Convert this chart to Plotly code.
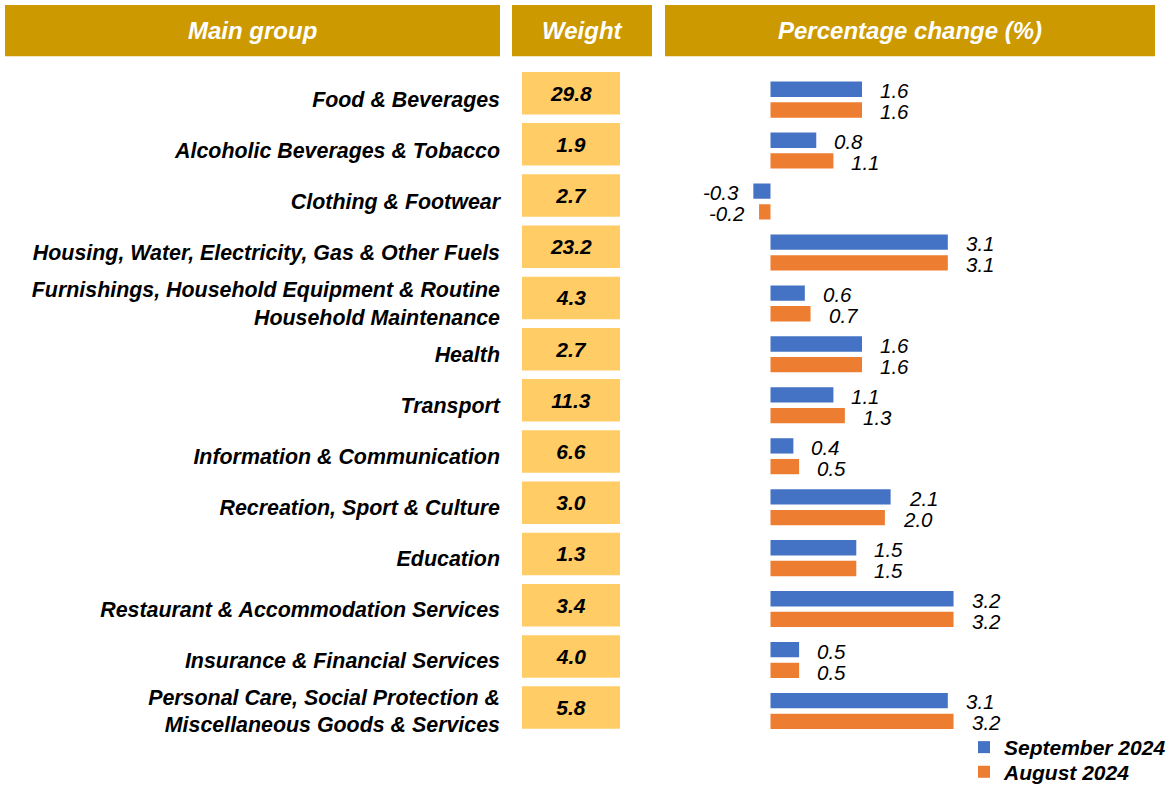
import plotly.graph_objects as go

W, H = 1176, 793

categories = [
    "Food & Beverages",
    "Alcoholic Beverages & Tobacco",
    "Clothing & Footwear",
    "Housing, Water, Electricity, Gas & Other Fuels",
    "Furnishings, Household Equipment & Routine<br>Household Maintenance",
    "Health",
    "Transport",
    "Information & Communication",
    "Recreation, Sport & Culture",
    "Education",
    "Restaurant & Accommodation Services",
    "Insurance & Financial Services",
    "Personal Care, Social Protection &<br>Miscellaneous Goods & Services",
]
weights = [29.8, 1.9, 2.7, 23.2, 4.3, 2.7, 11.3, 6.6, 3.0, 1.3, 3.4, 4.0, 5.8]
sep_2024 = [1.6, 0.8, -0.3, 3.1, 0.6, 1.6, 1.1, 0.4, 2.1, 1.5, 3.2, 0.5, 3.1]
aug_2024 = [1.6, 1.1, -0.2, 3.1, 0.7, 1.6, 1.3, 0.5, 2.0, 1.5, 3.2, 0.5, 3.2]
series_names = ["September 2024", "August 2024"]
headers = ["Main group", "Weight", "Percentage change (%)"]

FONT = "Arial, Liberation Sans, sans-serif"
GOLD = "#CC9900"
CELL = "#FFCC66"
BLUE = "#4472C4"
ORANGE = "#ED7D31"

def px_x(p):
    return p / W

def px_y(p):
    return 1 - p / H

fig = go.Figure()

# Weight cells (constant-width boxes carrying the weight values)
fig.add_trace(go.Bar(
    y=categories, x=[1] * len(categories), base=0, orientation="h",
    xaxis="x2", yaxis="y2", width=0.83,
    marker=dict(color=CELL, line=dict(width=0)),
    text=[f"{w:.1f}" for w in weights], textposition="inside",
    insidetextanchor="middle",
    textfont=dict(family=FONT, size=21, color="black", weight="bold", style="italic"),
    showlegend=False, hoverinfo="skip",
))

# Percentage change bars
for name, vals, col, lg in [(series_names[0], sep_2024, BLUE, "legend"),
                            (series_names[1], aug_2024, ORANGE, "legend2")]:
    fig.add_trace(go.Bar(
        y=categories, x=vals, orientation="h", name=name,
        marker=dict(color=col, line=dict(width=0)),
        xaxis="x", yaxis="y", legend=lg,
    ))

annotations = []
for vals, shift in [(sep_2024, -10.5), (aug_2024, 10.5)]:
    for c, v in zip(categories, vals):
        pos = v >= 0
        annotations.append(dict(
            x=v, y=c, xref="x", yref="y", text=f"{v:.1f}", showarrow=False,
            xanchor="left" if pos else "right", xshift=16 if pos else -12,
            yshift=-shift - 1.5,
            font=dict(family=FONT, size=20.5, color="black", style="italic"),
        ))

# Header boxes
header_boxes = [(5, 500), (512, 652), (665, 1155)]
shapes = []
for (x0, x1), txt in zip(header_boxes, headers):
    shapes.append(dict(type="rect", xref="paper", yref="paper",
                       x0=px_x(x0), x1=px_x(x1), y0=px_y(57), y1=px_y(5),
                       fillcolor=GOLD, line=dict(width=0), layer="below"))
    annotations.append(dict(
        x=px_x((x0 + x1) / 2), y=px_y(31), xref="paper", yref="paper",
        text=txt, showarrow=False, xanchor="center", yanchor="middle",
        font=dict(family=FONT, size=24, color="white", weight="bold", style="italic"),
    ))

legend_font = dict(family=FONT, size=21, color="black", weight="bold", style="italic")
zero_px, unit_px = 770.5, 57.2
fig.update_layout(
    width=W, height=H, margin=dict(l=0, r=0, t=0, b=0),
    paper_bgcolor="white", plot_bgcolor="rgba(0,0,0,0)",
    barmode="group", bargap=0.187, bargroupgap=0.26,
    font=dict(family=FONT, color="black"),
    xaxis=dict(domain=[px_x(665), px_x(1155)],
               range=[(665 - zero_px) / unit_px, (1155 - zero_px) / unit_px],
               visible=False, fixedrange=True),
    yaxis=dict(domain=[px_y(746.8), px_y(75.2)], range=[12.5, -0.5],
               type="category", anchor="free", position=px_x(522),
               showgrid=False, zeroline=False, showline=False, ticks="",
               ticklabelstandoff=22,
               tickfont=dict(family=FONT, size=21.4, color="black",
                             weight="bold", style="italic")),
    xaxis2=dict(domain=[px_x(522), px_x(620)], range=[0, 1], visible=False,
                anchor="y2"),
    yaxis2=dict(domain=[px_y(743.5), px_y(68.5)], range=[12.5, -0.5],
                type="category", anchor="x2", visible=False),
    legend=dict(x=px_x(964), y=px_y(758), xanchor="left", yanchor="middle",
                bgcolor="rgba(0,0,0,0)", font=legend_font, itemwidth=30),
    legend2=dict(x=px_x(964), y=px_y(783), xanchor="left", yanchor="middle",
                 bgcolor="rgba(0,0,0,0)", font=legend_font, itemwidth=30),
    shapes=shapes,
    annotations=annotations,
)

fig.write_html("out.html", config={"displayModeBar": False},
               post_script="document.body.style.margin='0';document.body.style.overflow='hidden';")
